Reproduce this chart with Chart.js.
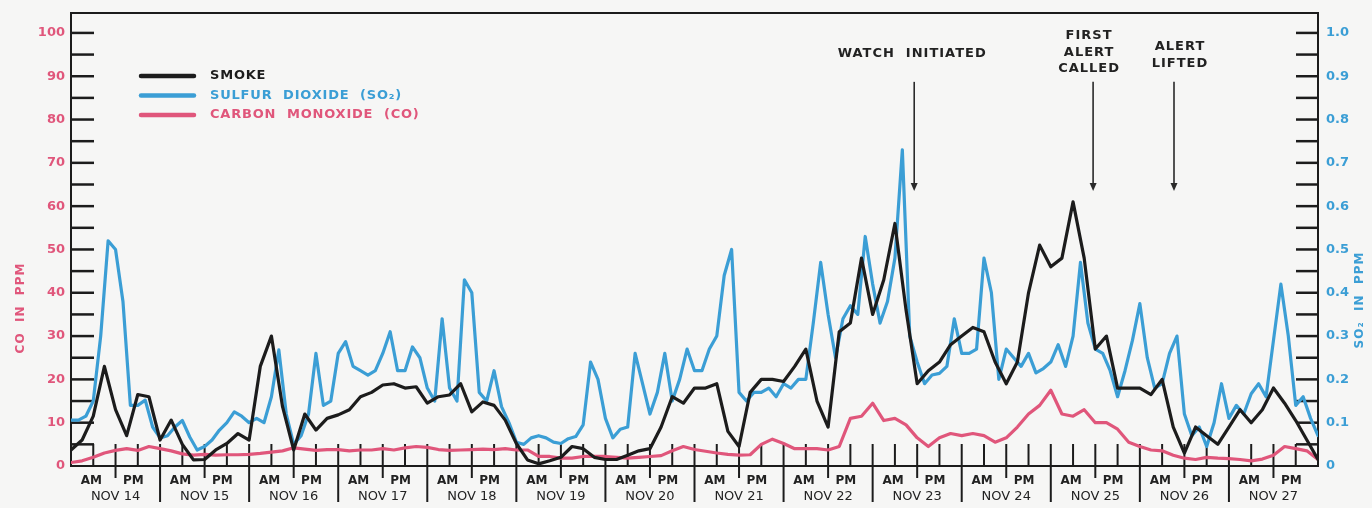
<!DOCTYPE html>
<html lang="en">
<head>
  <meta charset="UTF-8">
  <title>Smoke, SO2 and CO - Nov 14 to Nov 27</title>
  <style>
    html, body { margin: 0; padding: 0; background: #f6f6f5; }
    .chart-container { width: 1372px; height: 508px; position: relative; }
  </style>
</head>
<body>
  <div class="chart-container">
    <canvas id="myChart" width="1372" height="508"></canvas>
  </div>

  <script src="https://cdn.jsdelivr.net/npm/chart.js"></script>
  <script>
    // Hours since Nov 14 00:00, 14 days in all.
    const TOTAL_HOURS = 336;
    const days = ['NOV 14', 'NOV 15', 'NOV 16', 'NOV 17', 'NOV 18', 'NOV 19', 'NOV 20',
                  'NOV 21', 'NOV 22', 'NOV 23', 'NOV 24', 'NOV 25', 'NOV 26', 'NOV 27'];

    // Smoke, read every 3 hours (drawn against the left scale).
    const smokeStep = 3;
    const smoke = [
      3.7, 6, 11.5, 23, 13, 7, 16.5, 16,
      6, 10.6, 5, 1.4, 1.5, 3.7, 5.2, 7.5,
      6, 23, 30, 13.7, 3.7, 12, 8.3, 11,
      11.8, 13, 16, 17, 18.7, 19, 18, 18.3,
      14.5, 16, 16.4, 19, 12.5, 14.8, 14, 10.6,
      5.2, 1.4, 0.5, 1.2, 2, 4.5, 4, 2,
      1.5, 1.5, 2.5, 3.5, 4, 9, 16, 14.5,
      18, 18, 19, 8, 4.5, 17, 20, 20,
      19.5, 23, 27, 15, 9, 31, 33, 48,
      35, 43, 56, 36, 19, 22, 24, 28,
      30, 32, 31, 24, 19, 24, 40, 51,
      46, 48, 61, 48, 27, 30, 18, 18,
      18, 16.5, 20, 9, 3, 9, 7, 5,
      9, 13, 10, 13, 18, 14.5, 10.5, 6,
      1.5
    ];

    // Sulfur dioxide in ppm, read every 2 hours (right scale).
    const so2Step = 2;
    const so2 = [
      .106, .106, .115, .15, .30, .52, .50, .38,
      .14, .14, .152, .09, .065, .07, .09, .105,
      .067, .037, .045, .06, .083, .10, .125, .115,
      .10, .11, .10, .16, .268, .12, .05, .07,
      .12, .26, .14, .15, .26, .287, .23, .22,
      .21, .22, .26, .31, .22, .22, .275, .25,
      .18, .15, .34, .18, .15, .43, .40, .17,
      .15, .22, .137, .10, .055, .05, .065, .07,
      .065, .055, .052, .063, .068, .095, .24, .20,
      .11, .065, .085, .09, .26, .19, .12, .17,
      .26, .15, .20, .27, .22, .22, .27, .30,
      .44, .50, .17, .15, .17, .17, .18, .16,
      .19, .18, .20, .20, .33, .47, .35, .25,
      .34, .37, .35, .53, .42, .33, .38, .48,
      .73, .30, .24, .19, .21, .214, .23, .34,
      .26, .26, .27, .48, .40, .20, .27, .25,
      .23, .26, .215, .225, .24, .28, .23, .30,
      .47, .33, .27, .26, .22, .16, .22, .29,
      .375, .25, .18, .19, .26, .30, .12, .07,
      .09, .045, .10, .19, .11, .14, .12, .167,
      .19, .16, .29, .42, .30, .14, .16, .11,
      .07
    ];

    // Carbon monoxide in ppm, read every 3 hours (left scale).
    const coStep = 3;
    const co = [
      0.8, 1.2, 2, 3, 3.6, 4, 3.6, 4.5,
      4, 3.5, 2.8, 2.5, 2.7, 2.5, 2.6, 2.6,
      2.7, 2.9, 3.2, 3.5, 4.2, 3.9, 3.6, 3.8,
      3.8, 3.5, 3.7, 3.7, 4, 3.7, 4.2, 4.5,
      4.3, 3.8, 3.6, 3.7, 3.8, 3.9, 3.8, 4,
      3.7, 3.7, 2.2, 2.2, 1.8, 1.8, 2.2, 2.2,
      2.2, 2, 1.8, 2, 2.2, 2.4, 3.5, 4.5,
      3.8, 3.4, 3, 2.7, 2.5, 2.6, 5, 6.2,
      5.2, 4, 4, 4, 3.7, 4.5, 11, 11.5,
      14.5, 10.5, 11, 9.5, 6.5, 4.5, 6.5, 7.5,
      7, 7.5, 7, 5.5, 6.5, 9, 12, 14,
      17.5, 12, 11.5, 13, 10, 10, 8.5, 5.5,
      4.5, 3.7, 3.5, 2.5, 1.8, 1.5, 2, 1.8,
      1.7, 1.5, 1.2, 1.6, 2.5, 4.5, 4, 3.5,
      1.5
    ];

    // Tick labels.
    const coTicks = [0, 10, 20, 30, 40, 50, 60, 70, 80, 90, 100];
    const coTickText = ['0', '10', '20', '30', '40', '50', '60', '70', '80', '90', '100'];
    const so2Ticks = [0, 0.1, 0.2, 0.3, 0.4, 0.5, 0.6, 0.7, 0.8, 0.9, 1.0];
    const so2TickText = ['0', '0.1', '0.2', '0.3', '0.4', '0.5', '0.6', '0.7', '0.8', '0.9', '1.0'];

    // Events marked with arrows (hour since Nov 14 00:00).
    const eventHours = [227.2, 275.4, 297.2];
    const eventText = [['WATCH  INITIATED'], ['FIRST', 'ALERT', 'CALLED'], ['ALERT', 'LIFTED']];

    const BLACK = '#1c1c1c';
    const BLUE = '#3b9ed5';
    const PINK = '#e0567b';

    const toPoints = (vals, step) => vals.map((v, i) => ({x: i * step, y: v}));

    function text(ctx, str, x, y, font, color, align, spacing) {
      ctx.font = font;
      ctx.fillStyle = color;
      ctx.textAlign = align || 'center';
      ctx.textBaseline = 'middle';
      ctx.letterSpacing = (spacing || 0) + 'px';
      ctx.fillText(str, x, y);
      ctx.letterSpacing = '0px';
    }

    function seg(ctx, x1, y1, x2, y2) {
      ctx.beginPath();
      ctx.moveTo(x1, y1);
      ctx.lineTo(x2, y2);
      ctx.stroke();
    }

    // Frame, inward ticks and all the hand-lettered texts.
    const paperPlugin = {
      id: 'paper',
      beforeDatasetsDraw(chart) {
        const {ctx, chartArea: a} = chart;
        const {x, y, y1} = chart.scales;
        ctx.save();
        ctx.strokeStyle = BLACK;
        ctx.lineWidth = 2;
        ctx.strokeRect(a.left, a.top, a.right - a.left, a.bottom - a.top);
        ctx.lineWidth = 2.5;
        for (let v = 5; v <= 100; v += 5) {
          const py = y.getPixelForValue(v);
          seg(ctx, a.left, py, a.left + 23, py);
        }
        for (let v = 1; v <= 20; v++) {
          const py = y1.getPixelForValue(v * 0.05);
          seg(ctx, a.right - 22, py, a.right, py);
        }
        ctx.lineWidth = 2;
        for (let h = 6; h < TOTAL_HOURS; h += 6) {
          const px = x.getPixelForValue(h);
          seg(ctx, px, a.bottom, px, a.bottom - 22);
          if (h % 24 === 0) seg(ctx, px, a.bottom, px, a.bottom + 36);
          else if (h % 24 === 12) seg(ctx, px, a.bottom, px, a.bottom + 12);
        }
        ctx.restore();
      },
      afterDraw(chart) {
        const {ctx, chartArea: a} = chart;
        const {x, y, y1} = chart.scales;
        const F = '"DejaVu Sans", sans-serif';
        ctx.save();

        coTicks.forEach((v, i) => text(ctx, coTickText[i], a.left - 6, y.getPixelForValue(v), `bold 13px ${F}`, PINK, 'right'));
        so2Ticks.forEach((v, i) => text(ctx, so2TickText[i], a.right + 8, y1.getPixelForValue(v), `bold 13px ${F}`, BLUE, 'left'));

        // Axis titles
        ctx.save();
        ctx.translate(21, 308);
        ctx.rotate(-Math.PI / 2);
        text(ctx, 'CO  IN  PPM', 0, 0, `bold 12px ${F}`, PINK, 'center', 1);
        ctx.restore();
        ctx.save();
        ctx.translate(1360, 300);
        ctx.rotate(-Math.PI / 2);
        text(ctx, 'SO₂  IN  PPM', 0, 0, `bold 12px ${F}`, BLUE, 'center', 1);
        ctx.restore();

        // Day labels
        days.forEach((d, i) => {
          const h0 = i * 24;
          text(ctx, 'AM', x.getPixelForValue(h0 + 5.5), a.bottom + 15, `bold 12px ${F}`, '#222');
          text(ctx, 'PM', x.getPixelForValue(h0 + 16.8), a.bottom + 15, `bold 12px ${F}`, '#222');
          text(ctx, d, x.getPixelForValue(h0 + 12), a.bottom + 31, `13px ${F}`, '#222');
        });

        // Legend
        const legend = [['SMOKE', BLACK], ['SULFUR  DIOXIDE  (SO₂)', BLUE], ['CARBON  MONOXIDE  (CO)', PINK]];
        ctx.lineCap = 'round';
        legend.forEach(([label, color], i) => {
          const ly = 76 + i * 19.5;
          ctx.strokeStyle = color;
          ctx.lineWidth = 4.5;
          seg(ctx, 141, ly, 194, ly);
          text(ctx, label, 210, ly, `bold 13px ${F}`, color, 'left', 0.8);
        });

        // Event arrows
        ctx.lineCap = 'butt';
        eventHours.forEach((h, i) => {
          const px = x.getPixelForValue(h);
          const top = y.getPixelForValue(88.7);
          const bot = y.getPixelForValue(63.5);
          ctx.strokeStyle = '#2a2a2a';
          ctx.fillStyle = '#2a2a2a';
          ctx.lineWidth = 1.6;
          seg(ctx, px, top, px, bot - 6);
          ctx.beginPath();
          ctx.moveTo(px - 3.5, bot - 8);
          ctx.lineTo(px + 3.5, bot - 8);
          ctx.lineTo(px, bot);
          ctx.closePath();
          ctx.fill();
          const lines = eventText[i];
          const cx = [px - 2, px - 4, px + 6][i];
          const firstY = [54, 36, 47][i];
          lines.forEach((t, j) => text(ctx, t, cx, firstY + j * 16.5, `bold 13px ${F}`, '#222', 'center', 1));
        });
        ctx.restore();
      }
    };

    function drawChart() {
      const canvas = document.querySelector('#myChart');
      const config = {
        type: 'line',
        data: {
          datasets: [
            {label: 'Carbon monoxide (CO)', data: toPoints(co, coStep), borderColor: PINK, yAxisID: 'y', order: 3},
            {label: 'Sulfur dioxide (SO2)', data: toPoints(so2, so2Step), borderColor: BLUE, yAxisID: 'y1', order: 2},
            {label: 'Smoke', data: toPoints(smoke, smokeStep), borderColor: BLACK, yAxisID: 'y', order: 1}
          ]
        },
        options: {
          responsive: false,
          animation: false,
          layout: {padding: {left: 71, right: 54, top: 13, bottom: 42}},
          elements: {
            point: {radius: 0},
            line: {borderWidth: 3.2, tension: 0, borderJoinStyle: 'round', borderCapStyle: 'round'}
          },
          plugins: {legend: {display: false}, tooltip: {enabled: false}},
          scales: {
            x: {type: 'linear', min: 0, max: TOTAL_HOURS, display: false},
            y: {min: 0, max: 104.6, display: false},
            y1: {min: 0, max: 1.046, display: false}
          }
        },
        plugins: [paperPlugin]
      };
      return new Chart(canvas, config);
    }

    const chart = drawChart();
    window.chart = chart;
  </script>
</body>
</html>
